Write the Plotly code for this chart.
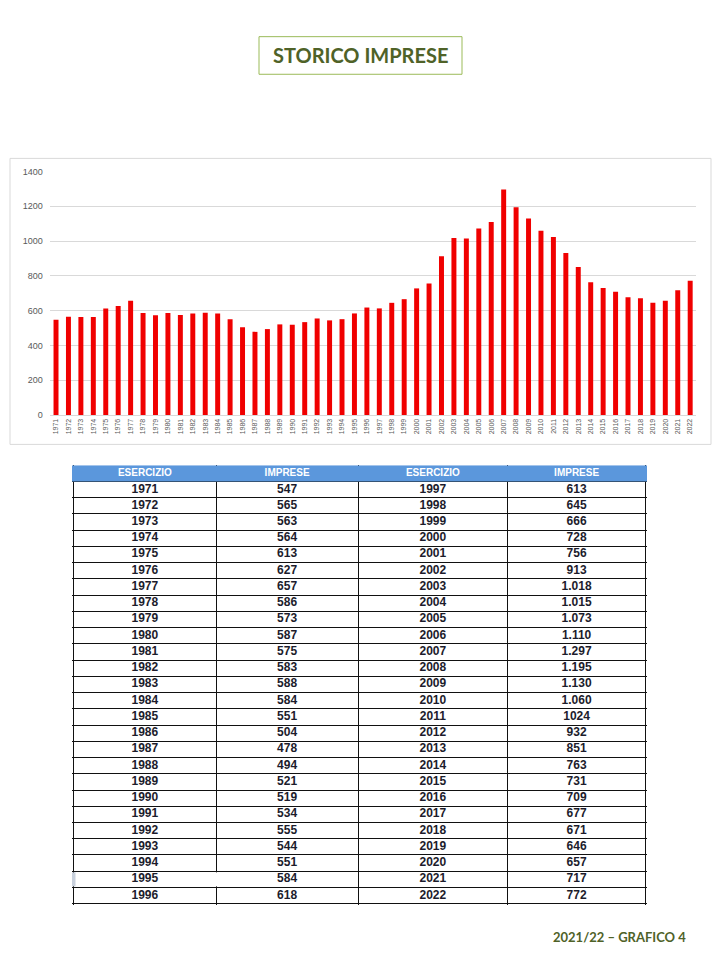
import plotly.graph_objects as go

years = list(range(1971, 2023))
imprese = [547, 565, 563, 564, 613, 627, 657, 586, 573, 587, 575, 583, 588, 584, 551,
           504, 478, 494, 521, 519, 534, 555, 544, 551, 584, 618,
           613, 645, 666, 728, 756, 913, 1018, 1015, 1073, 1110, 1297, 1195, 1130, 1060,
           1024, 932, 851, 763, 731, 709, 677, 671, 646, 657, 717, 772]
imprese_labels = ["547", "565", "563", "564", "613", "627", "657", "586", "573", "587",
                  "575", "583", "588", "584", "551", "504", "478", "494", "521", "519",
                  "534", "555", "544", "551", "584", "618",
                  "613", "645", "666", "728", "756", "913", "1.018", "1.015", "1.073",
                  "1.110", "1.297", "1.195", "1.130", "1.060", "1024", "932", "851",
                  "763", "731", "709", "677", "671", "646", "657", "717", "772"]
header_labels = ["ESERCIZIO", "IMPRESE", "ESERCIZIO", "IMPRESE"]
column_widths = [143, 142, 150, 138]
y_ticks = [0, 200, 400, 600, 800, 1000, 1200, 1400]
title_text = "STORICO IMPRESE"
footer_text = "2021/22 \u2013 GRAFICO 4"

W, H = 720, 960
def px(x):
    return x / W
def py(y):
    return 1 - y / H

fig = go.Figure()
fig.add_trace(go.Bar(
    x=[str(y) for y in years], y=imprese,
    marker=dict(color="#f00000", line=dict(width=0)),
    xaxis="x", yaxis="y", showlegend=False, hoverinfo="x+y",
))

# ---- table drawn on its own axes (x2 / y2) ----
half = len(years) // 2
n_rows = half + 1  # header + data rows
bounds = [0]
for w in column_widths:
    bounds.append(bounds[-1] + w)
centers = [(bounds[i] + bounds[i + 1]) / 2 for i in range(4)]
total_w = bounds[-1]
pad = 1.5

# header background
fig.add_trace(go.Bar(
    y=[0.5], x=[total_w + 2 * pad], base=[-pad], width=[1.0], orientation="h",
    marker=dict(color="#5b97dc", line=dict(width=0)),
    xaxis="x2", yaxis="y2", showlegend=False, hoverinfo="skip",
))
# header text
fig.add_trace(go.Scatter(
    x=centers, y=[0.5] * 4, mode="text",
    text=[f"<b>{h}</b>" for h in header_labels],
    textfont=dict(color="white", size=10, family="Liberation Sans Narrow, Liberation Sans"),
    xaxis="x2", yaxis="y2", showlegend=False, hoverinfo="skip",
))
# cell texts
col_values = [
    [str(y) for y in years[:half]],
    imprese_labels[:half],
    [str(y) for y in years[half:]],
    imprese_labels[half:],
]
cx, cy, ct = [], [], []
for ci, vals in enumerate(col_values):
    for ri, v in enumerate(vals):
        cx.append(centers[ci])
        cy.append(ri + 1.5)
        ct.append(f"<b>{v}</b>")
fig.add_trace(go.Scatter(
    x=cx, y=cy, mode="text", text=ct,
    textfont=dict(color="#1c1c2c", size=12, family="Liberation Sans Narrow, Liberation Sans"),
    xaxis="x2", yaxis="y2", showlegend=False, hoverinfo="skip",
))

# the 1995 row shows no inner divider in the reference (row spans y = r .. r+1)
row_1995 = years.index(1995) + 1

fig.update_layout(
    width=W, height=H,
    margin=dict(l=0, r=0, t=0, b=0),
    paper_bgcolor="white", plot_bgcolor="white",
    bargap=0.6,
    xaxis=dict(domain=[px(49.8), px(696.4)], type="category",
               tickangle=-90, tickfont=dict(size=7, color="#595959", family="Liberation Sans"),
               showgrid=False, showline=True, linecolor="#d9d9d9", ticks="",
               anchor="y", fixedrange=True),
    yaxis=dict(domain=[py(414.3), py(168.3)], range=[0, 1400],
               tickvals=y_ticks, tickfont=dict(size=9, color="#595959", family="Liberation Sans"),
               showgrid=True, gridcolor="#d9d9d9", gridwidth=1, zeroline=False,
               showline=False, ticks="", ticklabelstandoff=6, anchor="x", fixedrange=True),
    xaxis2=dict(domain=[px(72), px(647)], range=[-pad, total_w + pad],
                tickvals=bounds, showticklabels=False, ticks="",
                showgrid=True, gridcolor="#111111", gridwidth=1.3, zeroline=False,
                showline=False, anchor="y2", fixedrange=True),
    yaxis2=dict(domain=[py(909.5), py(465)], range=[n_rows + 0.08, 0],
                tickvals=list(range(1, n_rows + 1)), showticklabels=False, ticks="",
                showgrid=True, gridcolor="#111111", gridwidth=1.3, zeroline=False,
                showline=False, anchor="x2", fixedrange=True),
    shapes=[
        dict(type="rect", xref="paper", yref="paper",
             x0=px(10), x1=px(711), y0=py(444), y1=py(155),
             line=dict(color="#d9d9d9", width=1), fillcolor="rgba(0,0,0,0)", layer="below"),
        dict(type="rect", xref="paper", yref="paper",
             x0=px(259), x1=px(462), y0=py(70), y1=py(32),
             line=dict(color="#9bbb59", width=1), fillcolor="rgba(0,0,0,0)"),
        dict(type="rect", xref="x2", yref="y2",
             x0=bounds[1] - 2, x1=bounds[1] + 2, y0=row_1995 + 0.07, y1=row_1995 + 1 - 0.07,
             line=dict(width=0), fillcolor="white", layer="above"),
        dict(type="rect", xref="x2", yref="y2",
             x0=bounds[0] - 2, x1=bounds[0] + 2, y0=row_1995 + 0.07, y1=row_1995 + 1 - 0.07,
             line=dict(width=0), fillcolor="#c8d0dc", layer="above"),
    ],
    annotations=[
        dict(text=f"<b>{title_text}</b>", xref="paper", yref="paper",
             x=px(360.5), y=py(51), xanchor="center", yanchor="middle", showarrow=False,
             font=dict(size=20, color="#4f6228", family="Lato, Open Sans")),
        dict(text=f"<b>{footer_text}</b>", xref="paper", yref="paper",
             x=px(688), y=py(942), xanchor="right", yanchor="middle", showarrow=False,
             font=dict(size=13, color="#4f6228", family="Lato, Open Sans")),
    ],
)

fig.write_html("out.html", config={"displayModeBar": False},
               post_script="document.body.style.margin='0';document.body.style.padding='0';document.body.style.overflow='hidden';")
